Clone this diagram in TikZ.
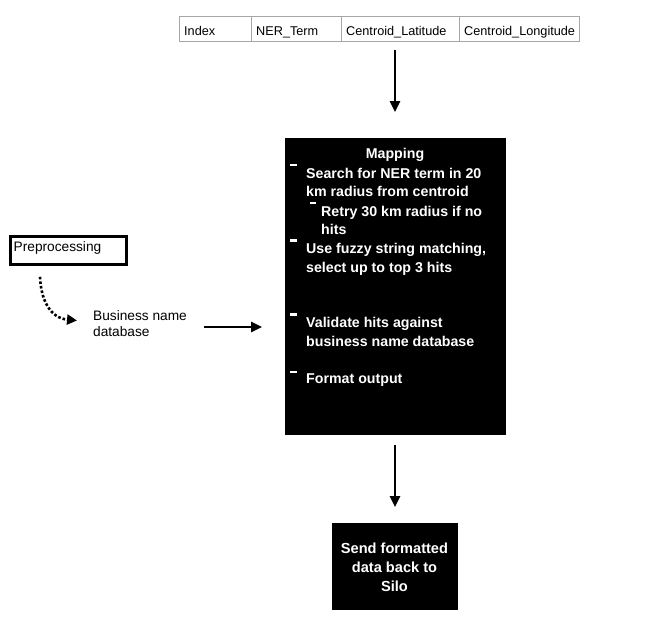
\documentclass[tikz,border=0pt]{standalone}
\usepackage{fontspec}
\setmainfont{Liberation Sans}
\usetikzlibrary{arrows.meta}
\begin{document}
\begin{tikzpicture}[x=1pt,y=-1pt,
  cell/.style={draw=black!35, line width=0.8pt, minimum height=25pt, inner sep=0pt,
    anchor=north west},
  celltxt/.style={font=\fontsize{12.7}{15}\selectfont, inner sep=0pt, anchor=west,
    text height=9pt, text depth=3pt},
  blackbox/.style={fill=black, draw=black, inner sep=0pt, anchor=north west},
  maptxt/.style={text=white, font=\fontsize{14.2}{17}\selectfont\bfseries, inner sep=0pt,
    anchor=west, text height=10pt, text depth=3pt},
  bullet/.style={fill=white, draw=none, inner sep=0pt, minimum width=6.5pt, minimum height=2.4pt,
    anchor=west},
  flow/.style={line width=2.5pt, -{Triangle[length=11pt,width=10pt]}},
  plain/.style={font=\fontsize{13.7}{16}\selectfont, inner sep=0pt, anchor=west,
    text height=10pt, text depth=3pt}
]
\useasboundingbox (0,0) rectangle (645,637);

% column header table
\node[cell, minimum width=72pt]  (c1) at (179,16) {};
\node[cell, minimum width=90pt]  (c2) at (251,16) {};
\node[cell, minimum width=118pt] (c3) at (341,16) {};
\node[cell, minimum width=120pt] (c4) at (459,16) {};
\node[celltxt] (t1) at (184,32) {Index};
\node[celltxt] (t2) at (256,32) {NER\_Term};
\node[celltxt] (t3) at (346,32) {Centroid\_Latitude};
\node[celltxt] (t4) at (464,32) {Centroid\_Longitude};
\coordinate (tabout) at (395,50);

% mapping step
\node[blackbox, minimum width=220pt, minimum height=296pt] (map) at (285,138) {};
\node[maptxt, anchor=center] (mtitle) at (395,155) {Mapping};
\node[bullet] (d1) at (290,165) {};
\node[maptxt] (l1) at (306,175) {Search for NER term in 20};
\node[maptxt] (l2) at (306,193) {km radius from centroid};
\node[bullet] (d2) at (309.5,203) {};
\node[maptxt] (l3) at (321,213) {Retry 30 km radius if no};
\node[maptxt] (l4) at (321,231) {hits};
\node[bullet] (d3) at (290,240.5) {};
\node[maptxt] (l5) at (306,250) {Use fuzzy string matching,};
\node[maptxt] (l6) at (306,269) {select up to top 3 hits};
\node[bullet] (d4) at (290,314.5) {};
\node[maptxt] (l7) at (306,324) {Validate hits against};
\node[maptxt] (l8) at (306,343) {business name database};
\node[bullet] (d5) at (290,372) {};
\node[maptxt] (l9) at (306,380) {Format output};

% final step
\node[blackbox, minimum width=125pt, minimum height=86pt] (send) at (332,523) {};
\node[text=white, font=\fontsize{14.6}{19}\selectfont\bfseries, align=center, inner sep=0pt] (sendtxt) at (394.5,567.5) {Send formatted\\data back to\\Silo};

% preprocessing and database
\node[draw=black, line width=2.8pt, minimum width=116pt, minimum height=28pt, inner sep=0pt, anchor=north west] (pre) at (9,235) {};
\node[plain] (pretxt) at (13.5,248) {Preprocessing};
\node[plain, align=left, text height=, text depth=, font=\fontsize{13.7}{16.5}\selectfont] (db) at (93,323.5) {Business name\\database};

% connectors
\draw[flow] (tabout) -- (395,112);
\draw[flow] (map.south -| tabout) ++(0,11) -- (395,507);
\draw[flow] (204,327) -- (262,327);
\draw[line width=2.6pt, dotted, -{Triangle[length=10pt,width=10pt]}]
  ([xshift=31pt,yshift=-11pt]pre.south west) .. controls (41,300) and (50,318) .. ([xshift=-16pt,yshift=3pt]db.west);
\end{tikzpicture}
\end{document}
